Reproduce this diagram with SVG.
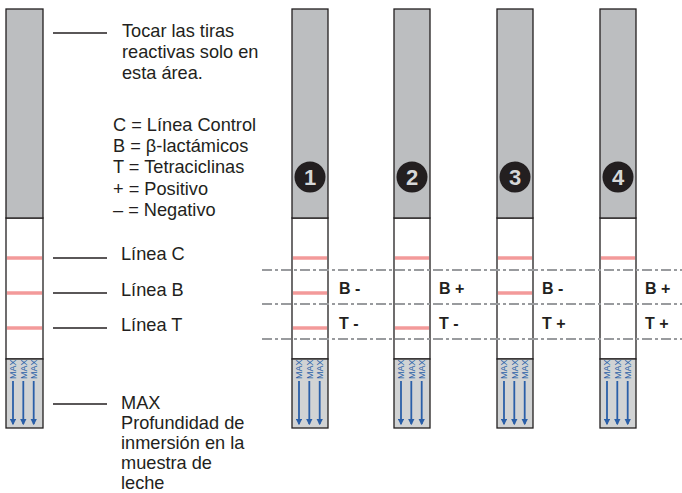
<svg xmlns="http://www.w3.org/2000/svg" width="682" height="493" viewBox="0 0 682 493">
<defs>
<style>
.t{font-family:"Liberation Sans",Arial,sans-serif;font-size:18.2px;fill:#231f20}
.b{font-family:"Liberation Sans",Arial,sans-serif;font-size:16px;font-weight:bold;fill:#231f20}
.num{font-family:"Liberation Sans",Arial,sans-serif;font-size:22px;font-weight:bold;fill:#d6d7d8;text-anchor:middle}
.mx{font-family:"Liberation Sans",Arial,sans-serif;font-size:9px;fill:#2a5fa8}
.gray{fill:#bcbec0;stroke:#231f20;stroke-width:1.3}
.white{fill:#ffffff;stroke:#231f20;stroke-width:1.3}
.maxz{fill:#d1d3d4;stroke:#231f20;stroke-width:1.3}
.red{stroke:#f39a9a;stroke-width:3.5}
.lead{stroke:#231f20;stroke-width:1.5}
.dd{stroke:#999b9e;stroke-width:1.8;stroke-dasharray:10 3 3 3;fill:none}
.arr{stroke:#2a5fa8;stroke-width:1.8}
</style>
<marker id="ah" viewBox="0 0 10 10" refX="8" refY="5" markerWidth="3.6" markerHeight="3.6" orient="auto">
<path d="M0,0 L10,5 L0,10 z" fill="#2a5fa8"/>
</marker>
<g id="maxblock">
<text class="mx" transform="translate(10.3,379) rotate(-90)">MAX</text>
<text class="mx" transform="translate(20.6,379) rotate(-90)">MAX</text>
<text class="mx" transform="translate(31,379) rotate(-90)">MAX</text>
<line class="arr" x1="7" y1="381" x2="7" y2="424" marker-end="url(#ah)"/>
<line class="arr" x1="17.3" y1="381" x2="17.3" y2="424" marker-end="url(#ah)"/>
<line class="arr" x1="27.7" y1="381" x2="27.7" y2="424" marker-end="url(#ah)"/>
</g>
</defs>

<g id="strip-ref">
<rect class="white" x="6" y="218" width="37" height="141"/>
<rect class="gray" x="6" y="9" width="37" height="209"/>
<rect class="maxz" x="6" y="359" width="37" height="69"/>
<line class="red" x1="7" y1="258" x2="42" y2="258"/>
<line class="red" x1="7" y1="293" x2="42" y2="293"/>
<line class="red" x1="7" y1="328" x2="42" y2="328"/>
<use href="#maxblock" x="6" y="0"/>
</g>

<g id="labels-ref">
<text class="t" x="122" y="37">Tocar las tiras</text>
<text class="t" x="122" y="58">reactivas solo en</text>
<text class="t" x="122" y="79">esta área.</text>
<text class="t" x="113" y="131">C = Línea Control</text>
<text class="t" x="113" y="152">B = β-lactámicos</text>
<text class="t" x="113" y="173">T = Tetraciclinas</text>
<text class="t" x="113" y="195">+ = Positivo</text>
<text class="t" x="113" y="216">– = Negativo</text>
<text class="t" x="121" y="260">Línea C</text>
<text class="t" x="121" y="296">Línea B</text>
<text class="t" x="121" y="331">Línea T</text>
<text class="t" x="121" y="409">MAX</text>
<text class="t" x="121" y="429">Profundidad de</text>
<text class="t" x="121" y="449">inmersión en la</text>
<text class="t" x="121" y="469">muestra de</text>
<text class="t" x="121" y="489">leche</text>
</g>

<g id="strip-1">
<rect class="white" x="292" y="218" width="36" height="141"/>
<rect class="gray" x="292" y="9" width="36" height="209"/>
<rect class="maxz" x="292" y="359" width="36" height="69"/>
<circle cx="310" cy="177" r="15.5" fill="#231f20"/>
<text class="num" x="310" y="185">1</text>
<line class="red" x1="293" y1="258" x2="327" y2="258"/>
<line class="red" x1="293" y1="293" x2="327" y2="293"/>
<line class="red" x1="293" y1="328" x2="327" y2="328"/>
<use href="#maxblock" x="292" y="0"/>
<text class="b" x="339" y="294">B -</text>
<text class="b" x="339" y="329">T -</text>
</g>

<g id="strip-2">
<rect class="white" x="394" y="218" width="36" height="141"/>
<rect class="gray" x="394" y="9" width="36" height="209"/>
<rect class="maxz" x="394" y="359" width="36" height="69"/>
<circle cx="412" cy="177" r="15.5" fill="#231f20"/>
<text class="num" x="412" y="185">2</text>
<line class="red" x1="395" y1="258" x2="429" y2="258"/>
<line class="red" x1="395" y1="328" x2="429" y2="328"/>
<use href="#maxblock" x="394" y="0"/>
<text class="b" x="439" y="294">B +</text>
<text class="b" x="439" y="329">T -</text>
</g>

<g id="strip-3">
<rect class="white" x="497" y="218" width="36" height="141"/>
<rect class="gray" x="497" y="9" width="36" height="209"/>
<rect class="maxz" x="497" y="359" width="36" height="69"/>
<circle cx="515" cy="177" r="15.5" fill="#231f20"/>
<text class="num" x="515" y="185">3</text>
<line class="red" x1="498" y1="258" x2="532" y2="258"/>
<line class="red" x1="498" y1="293" x2="532" y2="293"/>
<use href="#maxblock" x="497" y="0"/>
<text class="b" x="542" y="294">B -</text>
<text class="b" x="542" y="329">T +</text>
</g>

<g id="strip-4">
<rect class="white" x="600" y="218" width="36" height="141"/>
<rect class="gray" x="600" y="9" width="36" height="209"/>
<rect class="maxz" x="600" y="359" width="36" height="69"/>
<circle cx="618" cy="177" r="15.5" fill="#231f20"/>
<text class="num" x="618" y="185">4</text>
<line class="red" x1="601" y1="258" x2="635" y2="258"/>
<use href="#maxblock" x="600" y="0"/>
<text class="b" x="645" y="294">B +</text>
<text class="b" x="645" y="329">T +</text>
</g>

<g id="connectors">
<line class="dd" x1="262" y1="270" x2="682" y2="270"/>
<line class="dd" x1="262" y1="304" x2="682" y2="304"/>
<line class="dd" x1="262" y1="339" x2="682" y2="339"/>
<line class="lead" x1="53" y1="33" x2="107" y2="33"/>
<line class="lead" x1="53" y1="258" x2="107" y2="258"/>
<line class="lead" x1="53" y1="293" x2="107" y2="293"/>
<line class="lead" x1="53" y1="328" x2="107" y2="328"/>
<line class="lead" x1="53" y1="404" x2="107" y2="404"/>
</g>
</svg>
